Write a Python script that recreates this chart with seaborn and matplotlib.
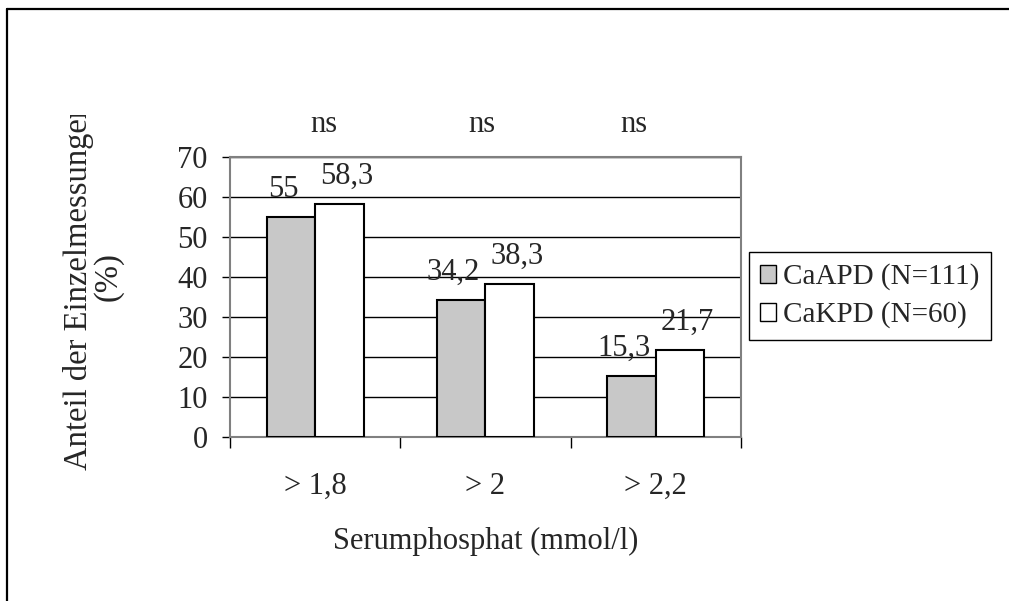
import matplotlib
matplotlib.use("Agg")
import matplotlib.pyplot as plt
from matplotlib.lines import Line2D
from matplotlib.patches import Patch
from matplotlib.transforms import Bbox, TransformedBbox
import seaborn as sns
import pandas as pd

# Data
categories = ["> 1,8", "> 2", "> 2,2"]
groups = ["CaAPD (N=111)", "CaKPD (N=60)"]
caapd = [55, 34.2, 15.3]
cakpd = [58.3, 38.3, 21.7]
significance = ["ns", "ns", "ns"]
y_ticks = [0, 10, 20, 30, 40, 50, 60, 70]

df = pd.DataFrame({
    "Kategorie": categories * 2,
    "Wert": caapd + cakpd,
    "Gruppe": [groups[0]] * 3 + [groups[1]] * 3,
})

sns.set_style("white")
plt.rcParams["font.family"] = ["Liberation Serif", "DejaVu Serif"]
FS = 22

W, H = 1009, 601
fig = plt.figure(figsize=(W / 100, H / 100), dpi=100)
ax = fig.add_axes([230 / W, 1 - 437 / H, (741 - 230) / W, (437 - 157) / H])

palette = {groups[0]: "#c8c8c8", groups[1]: "#ffffff"}
sns.barplot(data=df, x="Kategorie", y="Wert", hue="Gruppe", order=categories,
            hue_order=groups, palette=palette, edgecolor="black", linewidth=1.5,
            width=0.57, gap=0, saturation=1, legend=False, ax=ax, zorder=3)

ax.set_xlim(-0.5, 2.5)
ax.set_ylim(0, 70)
ax.set_yticks(y_ticks)
ax.yaxis.grid(True, color="black", linewidth=1, zorder=0)
ax.set_axisbelow(True)

for side in ["left", "bottom", "top", "right"]:
    ax.spines[side].set_color("#808080")
    ax.spines[side].set_linewidth(1.5)

ax.tick_params(axis="y", direction="out", length=6, width=1, color="black",
               pad=10, labelsize=FS, left=True)
ax.set_xticks([-0.5, 0.5, 1.5, 2.5], minor=True)
ax.tick_params(axis="x", which="minor", direction="out", length=8, width=1,
               color="black", bottom=True)
ax.tick_params(axis="x", which="major", length=0, pad=25, labelsize=FS)

ax.set_xlabel("Serumphosphat (mmol/l)", fontsize=FS)
ax.xaxis.set_label_coords(0.5, -0.32)
ax.set_ylabel("")


def fmt(v):
    return f"{v:g}".replace(".", ",")


# Value labels above each bar
for container, vals, dx in zip(ax.containers, [caapd, cakpd], [-8, 7]):
    for bar, v in zip(container, vals):
        cx = bar.get_x() + bar.get_width() / 2
        ax.annotate(fmt(v), xy=(cx, v), xytext=(dx, 20), textcoords="offset pixels",
                    ha="center", va="baseline", fontsize=FS)

# Significance marks above the groups
for xpos, s in zip([0.05, 0.98, 1.87], significance):
    ax.text(xpos, 1.115, s, transform=ax.get_xaxis_transform(), ha="center",
            va="center", fontsize=FS)

# Y axis title in two lines; the first line is clipped by its text box at the top
ylab1 = fig.text(79 / W, 1 - 470 / H, "Anteil der Einzelmessungen",
                 rotation=90, ha="center", va="bottom", fontsize=23.5)
ylab1.set_clip_box(TransformedBbox(Bbox([[0, 0], [1, 1 - 115 / H]]), fig.transFigure))
ylab1.set_clip_on(True)
fig.text(108 / W, 1 - 277 / H, "(%)", rotation=90, ha="center", va="center",
         fontsize=23.5)

# Legend
handles = [Patch(facecolor=palette[g], edgecolor="black", linewidth=1) for g in groups]
leg = fig.legend(handles, groups, loc="center left",
                 bbox_to_anchor=(749 / W, 1 - 296 / H), frameon=True, fancybox=False,
                 edgecolor="black", framealpha=1, fontsize=21, handlelength=0.55,
                 handleheight=0.55, handletextpad=0.25, labelspacing=0.38,
                 borderpad=0.38, borderaxespad=0)
leg.get_frame().set_linewidth(1)

# Outer chart frame (left and top edges)
fig.add_artist(Line2D([7 / W, 7 / W], [0, 1 - 9 / H], transform=fig.transFigure,
                      color="black", linewidth=1.6))
fig.add_artist(Line2D([7 / W, 1], [1 - 9 / H, 1 - 9 / H], transform=fig.transFigure,
                      color="black", linewidth=1.6))

fig.savefig("out.png", dpi=100, facecolor="white")
